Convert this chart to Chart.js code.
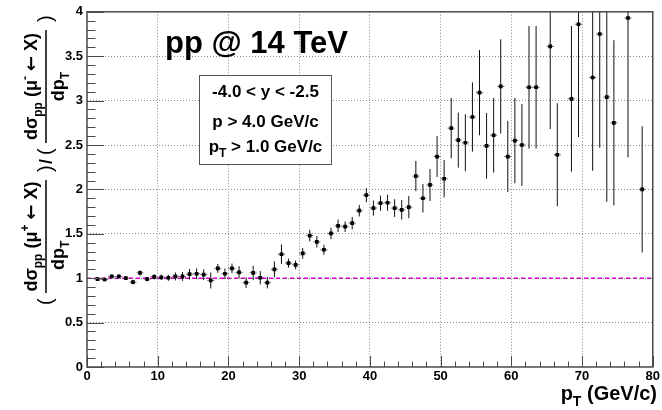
<!DOCTYPE html>
<html>
<head>
<meta charset="utf-8">
<script src="https://cdn.jsdelivr.net/npm/chart.js@4.4.0/dist/chart.umd.min.js"></script>
<style>
  html, body { margin: 0; padding: 0; background: #fff; }
  #wrap { width: 662px; height: 410px; }
</style>
</head>
<body>
<div id="wrap"><canvas id="ratio" width="662" height="410"></canvas></div>
<script>
// mu+ / mu- differential yield ratio vs pT, 1 GeV/c bins
const binCenters = [
  1.5, 2.5, 3.5, 4.5, 5.5, 6.5, 7.5, 8.5, 9.5, 10.5,
  11.5, 12.5, 13.5, 14.5, 15.5, 16.5, 17.5, 18.5, 19.5, 20.5,
  21.5, 22.5, 23.5, 24.5, 25.5, 26.5, 27.5, 28.5, 29.5, 30.5,
  31.5, 32.5, 33.5, 34.5, 35.5, 36.5, 37.5, 38.5, 39.5, 40.5,
  41.5, 42.5, 43.5, 44.5, 45.5, 46.5, 47.5, 48.5, 49.5, 50.5,
  51.5, 52.5, 53.5, 54.5, 55.5, 56.5, 57.5, 58.5, 59.5, 60.5,
  61.5, 62.5, 63.5, 65.5, 66.5, 68.5, 69.5, 71.5, 72.5, 73.5,
  74.5, 76.5, 78.5
];
const ratio = [
  0.99, 0.985, 1.02, 1.02, 1.0, 0.955, 1.06, 0.99, 1.015, 1.01,
  1.005, 1.02, 1.02, 1.045, 1.05, 1.04, 0.975, 1.11, 1.05, 1.11,
  1.065, 0.95, 1.06, 1.005, 0.95, 1.10, 1.27, 1.17, 1.15, 1.28,
  1.48, 1.41, 1.32, 1.505, 1.59, 1.58, 1.62, 1.76, 1.935, 1.79,
  1.845, 1.85, 1.79, 1.77, 1.80, 2.15, 1.90, 2.05, 2.37, 2.12,
  2.69, 2.555, 2.525, 2.815, 3.09, 2.49, 2.61, 3.16, 2.37, 2.55,
  2.50, 3.15, 3.15, 3.61, 2.39, 3.02, 3.86, 3.26, 3.75, 3.04,
  2.75, 3.93, 2.00
];
const ratioErr = [
  0.02, 0.02, 0.02, 0.02, 0.02, 0.025, 0.03, 0.025, 0.03, 0.03,
  0.035, 0.045, 0.05, 0.06, 0.06, 0.06, 0.09, 0.05, 0.06, 0.055,
  0.07, 0.06, 0.08, 0.075, 0.065, 0.09, 0.11, 0.05, 0.05, 0.06,
  0.065, 0.065, 0.056, 0.065, 0.07, 0.06, 0.07, 0.065, 0.08, 0.085,
  0.085, 0.09, 0.10, 0.11, 0.125, 0.17, 0.16, 0.18, 0.23, 0.21,
  0.34, 0.31, 0.32, 0.39, 0.48, 0.37, 0.42, 0.53, 0.40, 0.48,
  0.46, 0.69, 0.69, 0.93, 0.58, 0.82, 1.27, 1.05, 1.28, 1.18,
  0.93, 1.57, 0.71
];
const binHalfWidth = 0.5;
const unityLevel = 1;

const xTicks = [0, 10, 20, 30, 40, 50, 60, 70, 80];
const yTicks = [0, 0.5, 1, 1.5, 2, 2.5, 3, 3.5, 4];
const xMinorStep = 2;
const yMinorStep = 0.1;

const FONT = '"Liberation Sans", Arial, Helvetica, sans-serif';
const SYMBOL_FONT = '"DejaVu Sans", sans-serif';
const INK = '#000';
const FRAME = '#4a4a4a';

Chart.defaults.font.family = FONT;

// draw (or just measure) a run of text pieces with sub/superscripts
function textRuns(ctx, runs, x, y, size, dry) {
  let cx = x;
  for (const r of runs) {
    const fs = r.k ? Math.round(size * 0.68) : size;
    ctx.font = `bold ${fs}px ${r.f || FONT}`;
    const dy = r.k === 'sub' ? size * 0.3 : r.k === 'sup' ? -size * 0.42 : 0;
    if (!dry) ctx.fillText(r.t, cx, y + dy);
    cx += ctx.measureText(r.t).width;
  }
  return cx - x;
}

const errorBars = {
  id: 'errorBars',
  beforeDatasetsDraw(chart) {
    const { ctx, chartArea: a, scales: { x, y } } = chart;
    ctx.save();
    ctx.beginPath();
    ctx.rect(a.left, a.top, a.right - a.left, a.bottom - a.top);
    ctx.clip();
    ctx.lineWidth = 1;
    binCenters.forEach((c, i) => {
      const px = x.getPixelForValue(c);
      const py = y.getPixelForValue(ratio[i]);
      ctx.strokeStyle = '#111';
      ctx.beginPath();
      ctx.moveTo(px, y.getPixelForValue(ratio[i] - ratioErr[i]));
      ctx.lineTo(px, y.getPixelForValue(ratio[i] + ratioErr[i]));
      ctx.stroke();
      ctx.strokeStyle = '#666';
      ctx.beginPath();
      ctx.moveTo(x.getPixelForValue(c - binHalfWidth), py);
      ctx.lineTo(x.getPixelForValue(c + binHalfWidth), py);
      ctx.stroke();
    });
    ctx.restore();
  }
};

const frameAndText = {
  id: 'frameAndText',
  afterDraw(chart) {
    const { ctx, chartArea: a, scales: { x, y } } = chart;
    ctx.save();

    // inward ticks, ROOT style
    ctx.strokeStyle = FRAME;
    ctx.lineWidth = 1;
    ctx.beginPath();
    for (let v = 0; v <= 80 + 1e-9; v += xMinorStep) {
      const px = Math.round(x.getPixelForValue(v)) + 0.5;
      const len = Math.abs(v % 10) < 1e-6 ? 11 : 5.5;
      ctx.moveTo(px, a.bottom);
      ctx.lineTo(px, a.bottom - len);
    }
    for (let k = 0; k <= 40; k++) {
      const v = k * yMinorStep;
      const py = Math.round(y.getPixelForValue(v)) + 0.5;
      const len = k % 5 === 0 ? 17 : 8.5;
      ctx.moveTo(a.left, py);
      ctx.lineTo(a.left + len, py);
    }
    ctx.stroke();

    // frame
    ctx.lineWidth = 1.5;
    ctx.strokeRect(a.left, a.top, a.right - a.left, a.bottom - a.top);

    ctx.fillStyle = INK;
    ctx.textAlign = 'left';
    ctx.textBaseline = 'alphabetic';

    // energy label
    ctx.font = `bold 31px ${FONT}`;
    ctx.fillText('pp @ 14 TeV', 165, 53);

    // selection box
    ctx.fillStyle = '#fff';
    ctx.fillRect(199.5, 75.5, 132, 89);
    ctx.strokeStyle = '#555';
    ctx.lineWidth = 1;
    ctx.strokeRect(199.5, 75.5, 132, 89);
    ctx.fillStyle = INK;
    const boxMid = 265.5;
    const cuts = [
      { runs: [{ t: '-4.0 < y < -2.5' }], base: 97 },
      { runs: [{ t: 'p > 4.0 GeV/c' }], base: 127 },
      { runs: [{ t: 'p' }, { t: 'T', k: 'sub' }, { t: ' > 1.0 GeV/c' }], base: 152 }
    ];
    cuts.forEach(l => {
      const w = textRuns(ctx, l.runs, 0, 0, 17, true);
      textRuns(ctx, l.runs, boxMid - w / 2, l.base, 17);
    });

    // x axis title
    const xt = [{ t: 'p' }, { t: 'T', k: 'sub' }, { t: ' (GeV/c)' }];
    const xw = textRuns(ctx, xt, 0, 0, 20, true);
    textRuns(ctx, xt, 657 - xw, 400, 20);

    // y axis title: ( dσ(μ+)/dpT ) / ( dσ(μ-)/dpT ), written bottom-up
    const barX = 46;
    ctx.translate(barX, 305);
    ctx.rotate(-Math.PI / 2);
    const sz = 18;
    const paren = (t, u) => {
      ctx.font = `normal 20px ${FONT}`;
      ctx.fillText(t, u, 6);
    };
    const block = (u0, charge, denShift) => {
      paren('(', u0);
      const b0 = u0 + 12, b1 = u0 + 125;
      ctx.strokeStyle = INK;
      ctx.lineWidth = 1.5;
      ctx.beginPath();
      ctx.moveTo(b0, 0);
      ctx.lineTo(b1, 0);
      ctx.stroke();
      const num = [
        { t: 'dσ' }, { t: 'pp', k: 'sub' }, { t: ' (μ' }, { t: charge, k: 'sup' },
        { t: ' ' }, { t: '←', f: SYMBOL_FONT }, { t: ' X)' }
      ];
      const nw = textRuns(ctx, num, 0, 0, sz, true);
      textRuns(ctx, num, (b0 + b1) / 2 - nw / 2, -9, sz);
      const den = [{ t: 'dp' }, { t: 'T', k: 'sub' }];
      const dw = textRuns(ctx, den, 0, 0, sz, true);
      const du = denShift == null ? (b0 + b1) / 2 - dw / 2 : b0 + denShift;
      textRuns(ctx, den, du, 18, sz);
      paren(')', u0 + 133);
    };
    block(0, '+', 23);
    ctx.font = `bold ${sz}px ${FONT}`;
    ctx.fillText('/', 141, 6);
    block(150, '-', null);

    ctx.restore();
  }
};

const ctx = document.getElementById('ratio').getContext('2d');
new Chart(ctx, {
  type: 'scatter',
  data: {
    datasets: [
      {
        label: 'ratio',
        data: binCenters.map((c, i) => ({ x: c, y: ratio[i] })),
        pointStyle: 'rect',
        pointRadius: 2.6,
        pointBackgroundColor: '#000',
        pointBorderColor: '#000',
        pointBorderWidth: 0,
        showLine: false,
        order: 0
      },
      {
        label: 'unity',
        type: 'line',
        data: [{ x: 0, y: unityLevel }, { x: 80, y: unityLevel }],
        borderColor: '#d000d0',
        borderWidth: 1.5,
        borderDash: [4, 3],
        pointRadius: 0,
        fill: false,
        order: 1
      }
    ]
  },
  options: {
    responsive: false,
    animation: false,
    devicePixelRatio: 1,
    layout: { padding: { top: 10, right: 8, left: 0, bottom: 0 } },
    plugins: { legend: { display: false }, tooltip: { enabled: false } },
    scales: {
      x: {
        type: 'linear',
        min: 0,
        max: 80,
        afterBuildTicks: s => { s.ticks = xTicks.map(v => ({ value: v })); },
        afterFit: s => { s.height = 43; },
        ticks: {
          color: INK,
          font: { size: 13, weight: 'bold' },
          padding: 2,
          maxRotation: 0,
          callback: v => String(v)
        },
        grid: {
          drawTicks: false,
          lineWidth: 1,
          color: c => (c.tick && (c.tick.value === 0 || c.tick.value === 80)) ? 'rgba(0,0,0,0)' : '#8a8a8a'
        },
        border: { display: false, dash: [1, 2] }
      },
      y: {
        type: 'linear',
        min: 0,
        max: 4,
        afterBuildTicks: s => { s.ticks = yTicks.map(v => ({ value: v })); },
        afterFit: s => { s.width = 87; },
        ticks: {
          color: INK,
          font: { size: 13, weight: 'bold' },
          padding: 4,
          callback: v => String(v)
        },
        grid: {
          drawTicks: false,
          lineWidth: 1,
          color: c => (c.tick && (c.tick.value === 0 || c.tick.value === 4)) ? 'rgba(0,0,0,0)' : '#8a8a8a'
        },
        border: { display: false, dash: [1, 2] }
      }
    }
  },
  plugins: [errorBars, frameAndText]
});
</script>
</body>
</html>
